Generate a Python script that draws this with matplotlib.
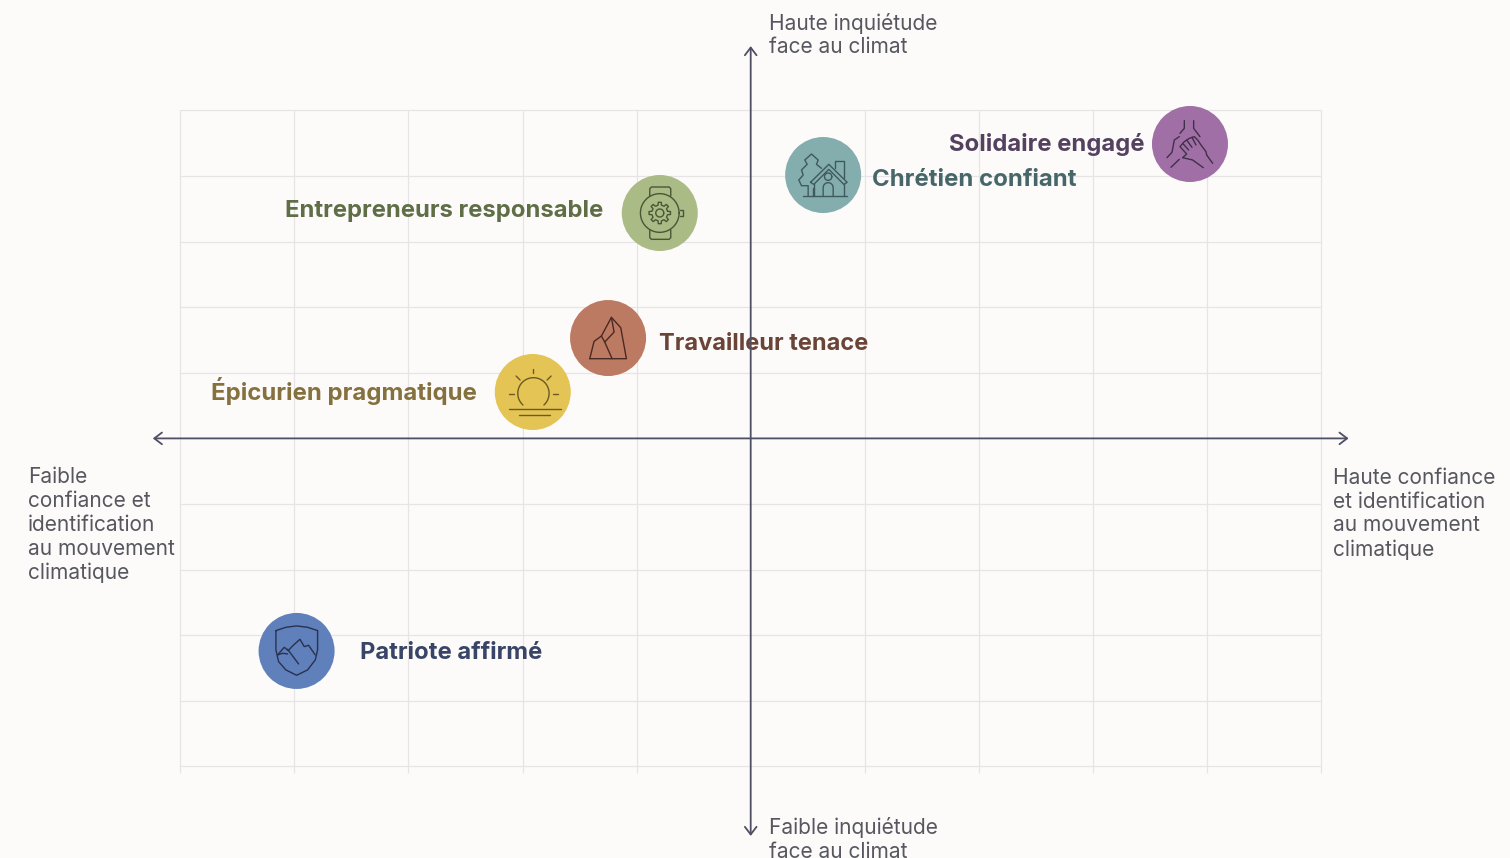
#!/usr/bin/env python3

# imports
import numpy as np
import matplotlib
matplotlib.use('Agg')
import matplotlib.pyplot as plt
from matplotlib.transforms import Affine2D

plt.rcParams['font.family'] = ['Inter', 'DejaVu Sans']

# data
names = ['Solidaire engagé', 'Chrétien confiant', 'Entrepreneurs responsable',
         'Travailleur tenace', 'Épicurien pragmatique', 'Patriote affirmé']
confidence = [3.85, 0.635, -0.797, -1.25, -1.91, -3.98]
worry = [4.488, 4.015, 3.436, 1.53, 0.707, -3.24]
grid_ticks = [-5, -4, -3, -2, -1, 0, 1, 2, 3, 4, 5]

x_top = 'Haute inquiétude\nface au climat'
x_bottom = 'Faible inquiétude\nface au climat'
y_left = 'Faible\nconfiance et\nidentification\nau mouvement\nclimatique'
y_right = 'Haute confiance\net identification\nau mouvement\nclimatique'

# styles for each group
fill_colors = ['#a06fa6', '#84adad', '#abbb86', '#bd7a62', '#e3c455', '#6080bb']
text_colors = ['#54415f', '#47666a', '#5f6e47', '#6b4438', '#85713e', '#394566']
icon_colors = ['#40304a', '#3f5a5e', '#4a5636', '#4a2a22', '#6d5a22', '#28324f']
label_offsets = [(-45, -1, 'right'), (49, -5, 'left'), (-57, 2, 'right'),
                 (51, -6, 'left'), (-56, 1, 'right'), (63, -2, 'left')]
label_sizes = [17.15, 17.25, 17.15, 17.0, 17.25, 17.15]


# icons, polylines in pixels around the circle centre (y down)
def scaled(points, cx, cy):
    return [((x - cx) / 3, (y - cy) / 3) for x, y in points]


def arc(cx, cy, r, a0, a1, n=40):
    t = np.radians(np.linspace(a0, a1, n))
    return [(cx + r * np.cos(a), cy + r * np.sin(a)) for a in t]


def gear(r_out, r_in, teeth=8):
    pts = []
    for i in range(teeth):
        a = 2 * np.pi * i / teeth
        w = np.pi / teeth
        for da, r in [(-0.55 * w, r_in), (-0.35 * w, r_out), (0.35 * w, r_out), (0.55 * w, r_in)]:
            pts.append((r * np.cos(a + da), r * np.sin(a + da)))
    pts.append(pts[0])
    return pts


hands = [scaled(p, 182, 162) for p in [
    [(165, 92), (165, 115), (152, 130)],
    [(193, 92), (193, 115), (212, 140)],
    [(113, 203), (128, 187), (135, 150), (150, 140)],
    [(125, 232), (150, 208)],
    [(160, 203), (190, 210), (222, 233)],
    [(232, 195), (250, 220)],
    [(160, 203), (172, 192), (152, 170), (165, 155), (180, 145), (195, 140), (205, 150),
     (215, 165), (230, 185), (232, 195)],
    [(160, 160), (178, 180)],
    [(172, 150), (188, 172)],
    [(188, 142), (200, 165)],
]]

house = [scaled(p, 160, 150) for p in [
    [(100, 212), (233, 212)],
    [(132, 178), (132, 212)],
    [(222, 178), (222, 212)],
    [(122, 172), (177, 118), (232, 172), (222, 178), (177, 133), (132, 178), (122, 172)],
    [(197, 130), (197, 108), (224, 108), (224, 158)],
    [(160, 212), (160, 188)] + arc(175, 188, 15, 180, 360) + [(190, 212)],
    arc(175, 155, 11, 0, 360),
    [(115, 212), (115, 182), (95, 182), (87, 165), (100, 150), (95, 135), (112, 118),
     (105, 105), (125, 87), (145, 105), (140, 118), (155, 130)],
    [(130, 212), (130, 190)],
]]

watch = [scaled(p, 150, 143) for p in [
    arc(150, 143, 58, 0, 360, 80),
    [(120, 92), (120, 70), (125, 65), (178, 65), (183, 70), (183, 92)],
    [(120, 194), (120, 217), (125, 222), (178, 222), (183, 217), (183, 194)],
    [(210, 133), (220, 133), (220, 153), (210, 153)],
    arc(150, 143, 12, 0, 360),
]] + [gear(10.8, 8.0)]

rock = [scaled(p, 370, 128) for p in [
    [(315, 190), (425, 190), (408, 97), (380, 66), (350, 122), (328, 138), (315, 190)],
    [(350, 122), (360, 140), (382, 190)],
    [(380, 66), (388, 110), (360, 140)],
]]

sun = [scaled(p, 143, 291) for p in [
    arc(145, 295, 47, 132, 408),
    [(145, 222), (145, 235)],
    [(93, 243), (105, 255)],
    [(198, 243), (186, 255)],
    [(72, 296), (87, 296)],
    [(205, 296), (220, 296)],
    [(72, 343), (228, 343)],
    [(103, 360), (195, 360)],
]]

shield = [scaled(p, 172, 153) for p in [
    [(110, 92), (140, 82), (172, 78), (205, 82), (235, 92), (235, 150), (228, 180),
     (205, 210), (172, 226), (140, 210), (118, 185), (110, 150), (110, 92)],
    [(115, 165), (135, 142), (147, 152), (160, 138), (182, 118), (195, 140), (208, 136), (228, 165)],
    [(115, 165), (130, 160), (145, 162)],
    [(145, 148), (178, 192)],
]]

icons = [hands, house, watch, rock, sun, shield]

# figure with one axes over the whole canvas
fig = plt.figure(figsize=(15.1, 8.58), dpi=100, facecolor='#fcfbfa')
ax = fig.add_axes([0, 0, 1, 1])
ax.set_xlim(-750.7 / 114.1, (1510 - 750.7) / 114.1)
ax.set_ylim((438.4 - 858) / 65.6, 438.4 / 65.6)
ax.axis('off')

# grid, the vertical lines run a little past the bottom edge
for t in grid_ticks:
    if t != 0:
        ax.plot([t, t], [-5.1, 5], color='#e6e4e5', lw=0.9, zorder=1, solid_capstyle='butt')
        ax.plot([-5, 5], [t, t], color='#e6e4e5', lw=0.9, zorder=1, solid_capstyle='butt')

# circles and icons
ax.scatter(confidence, worry, s=2995, c=fill_colors, linewidths=0, zorder=3)

for i in range(len(names)):
    center = ax.transData.transform((confidence[i], worry[i]))
    tr = Affine2D().scale(1, -1).translate(center[0], center[1])
    for line in icons[i]:
        xs = [p[0] for p in line]
        ys = [p[1] for p in line]
        ax.plot(xs, ys, transform=tr, color=icon_colors[i], lw=1.0, zorder=4,
                solid_joinstyle='round', solid_capstyle='round')

    dx, dy, ha = label_offsets[i]
    ax.annotate(names[i], (confidence[i], worry[i]), xytext=(dx, dy), textcoords='offset pixels',
                ha=ha, va='center', fontsize=label_sizes[i], fontweight='bold', color=text_colors[i], zorder=5)

# the two main axes with open arrow heads, on top of the labels
arrow = dict(arrowstyle='<->,head_length=0.55,head_width=0.42', color='#4f4f63', lw=1.3,
             shrinkA=0, shrinkB=0)
ax.annotate('', xy=(5.24, 0), xytext=(-5.24, 0), arrowprops=arrow, zorder=6)
ax.annotate('', xy=(0, 5.98), xytext=(0, -6.06), arrowprops=arrow, zorder=6)

# axis end labels
label_style = dict(fontsize=15.05, color='#57575f', linespacing=1.235, va='center', ha='left')
ax.text(0.158, 6.15, x_top, **label_style)
ax.text(0.158, -6.115, x_bottom, **label_style)
ax.text(-6.336, -1.325, y_left, **label_style)
ax.text(5.10, -1.15, y_right, **label_style)

fig.savefig('out.png', dpi=100, facecolor=fig.get_facecolor())
